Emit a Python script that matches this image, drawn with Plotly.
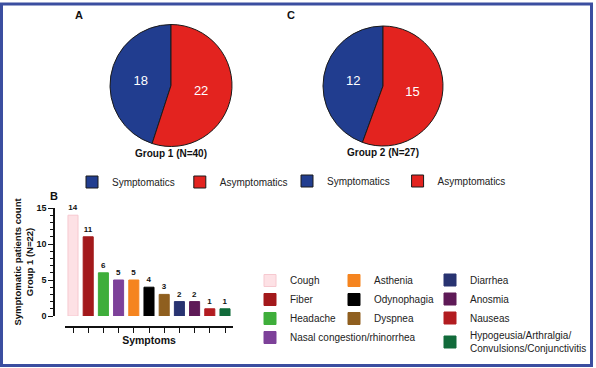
import plotly.graph_objects as go

W, H = 596, 368
FONT = "Liberation Sans, Arial, sans-serif"

# ---------------- data ----------------
group1_labels = ["Symptomatics", "Asymptomatics"]
group2_labels = ["Symptomatics ", "Asymptomatics "]  # distinct keys so each pie gets its own legend
group1_counts = [18, 22]
group2_counts = [12, 15]
pie_colors = ["#213d8f", "#e3231f"]

symptoms = ["Cough", "Fiber", "Headache", "Nasal congestion/rhinorrhea", "Asthenia",
            "Odynophagia", "Dyspnea", "Diarrhea", "Anosmia", "Nauseas",
            "Hypogeusia/Arthralgia/<br>Convulsions/Conjunctivitis"]
symptom_counts = [14, 11, 6, 5, 5, 4, 3, 2, 2, 1, 1]
symptom_colors = ["#fde1e5", "#a3191b", "#3fae3b", "#7d4199", "#f5841f",
                  "#000000", "#8f5f1f", "#283371", "#5e1a57", "#b21c20", "#116b3b"]
symptom_lines = ["#f6c9d0", "#a3191b", "#3fae3b", "#7d4199", "#f5841f",
                 "#000000", "#8f5f1f", "#283371", "#5e1a57", "#b21c20", "#116b3b"]
legend_column = [3, 3, 3, 3, 4, 4, 4, 5, 5, 5, 5]


def px(x):
    return x / W


def py(y):
    return 1 - y / H


fig = go.Figure()

# ---------------- pies ----------------
for labels, counts, dom, title, leg in [
    (group1_labels, group1_counts, (110, 232, 19, 163), "Group 1 (N=40)", "legend"),
    (group2_labels, group2_counts, (323, 443, 20, 163), "Group 2 (N=27)", "legend2"),
]:
    # symptomatic slice ends at 12 o'clock, asymptomatic slice starts there (clockwise)
    rot = -360.0 * counts[0] / sum(counts)
    fig.add_trace(go.Pie(
        labels=labels, values=counts, sort=False, direction="clockwise",
        rotation=rot, textinfo="value", textposition="inside",
        insidetextorientation="horizontal",
        textfont=dict(color="white", size=13, family=FONT),
        marker=dict(colors=pie_colors, line=dict(color="#1a1a1a", width=1)),
        domain=dict(x=[px(dom[0]), px(dom[1])], y=[py(dom[3]), py(dom[2])]),
        title=dict(text=title, position="bottom center",
                   font=dict(size=10, family=FONT, color="#111", weight="bold")),
        legend=leg, hoverinfo="label+value",
    ))

# ---------------- bars ----------------
for name, val, col, lc, lg in zip(symptoms, symptom_counts, symptom_colors,
                                  symptom_lines, legend_column):
    fig.add_trace(go.Bar(
        x=[name], y=[val], name=name, width=0.66,
        marker=dict(color=col, line=dict(color=lc, width=1)),
        text=[val], textposition="outside", cliponaxis=False,
        textfont=dict(size=8, family=FONT, color="#111", weight="bold"),
        legend=f"legend{lg}",
        xaxis="x", yaxis="y",
    ))

leg_font = dict(size=10, family=FONT, color="#222")
fig.update_layout(
    width=W, height=H, margin=dict(l=0, r=0, t=0, b=0),
    paper_bgcolor="white", plot_bgcolor="white",
    barmode="overlay", font=dict(family=FONT),
    showlegend=True,
    legend=dict(orientation="h", x=px(72), y=py(182), yanchor="middle",
                font=leg_font, bgcolor="rgba(0,0,0,0)"),
    legend2=dict(orientation="h", x=px(287), y=py(181), yanchor="middle",
                 font=leg_font, bgcolor="rgba(0,0,0,0)"),
    legend3=dict(x=px(250), y=py(266), yanchor="top", font=leg_font,
                 bgcolor="rgba(0,0,0,0)", traceorder="normal"),
    legend4=dict(x=px(334), y=py(266), yanchor="top", font=leg_font,
                 bgcolor="rgba(0,0,0,0)", traceorder="normal"),
    legend5=dict(x=px(430), y=py(265.5), yanchor="top", font=leg_font,
                 bgcolor="rgba(0,0,0,0)", traceorder="normal"),
    xaxis=dict(domain=[px(65.4), px(232.6)], range=[-0.5, 10.5],
               anchor="free", position=py(327), showline=True,
               linecolor="#111", linewidth=1.5, ticks="outside", ticklen=5,
               tickcolor="#111", tickwidth=1.2, showticklabels=False,
               showgrid=False, zeroline=False, automargin=False,
               title=dict(text="Symptoms", standoff=4,
                          font=dict(size=10.5, family=FONT, color="#111", weight="bold"))),
    yaxis=dict(domain=[py(316), py(208)], range=[0, 15],
               anchor="free", position=px(54), showline=True,
               linecolor="#111", linewidth=1.5, ticks="outside", ticklen=5,
               tickcolor="#111", tickwidth=1.2, tickvals=[0, 5, 10, 15],
               minor=dict(dtick=1, ticks="outside", ticklen=3, tickcolor="#111"),
               tickfont=dict(size=9, family=FONT, color="#111", weight="bold"),
               showgrid=False, zeroline=False, automargin=False,
               title=dict(text="Symptomatic patients count<br>Group 1 (N=22)",
                          standoff=0,
                          font=dict(size=9.5, family=FONT, color="#111", weight="bold"))),
    shapes=[dict(type="rect", xref="paper", yref="paper",
                 x0=px(1.5), x1=px(591.5), y0=py(365.5), y1=py(4),
                 line=dict(color="#3b4ea0", width=3), fillcolor="rgba(0,0,0,0)")],
    annotations=[
        dict(text=t, x=px(xx), y=py(yy), xref="paper", yref="paper",
             showarrow=False, xanchor="center", yanchor="middle",
             font=dict(size=11, family=FONT, color="#111", weight="bold"))
        for t, xx, yy in [("A", 79, 15), ("C", 291, 15), ("B", 54, 196)]
    ],
)

fig.write_html("out.html", config={"displayModeBar": False},
               post_script="document.body.style.margin='0';")
